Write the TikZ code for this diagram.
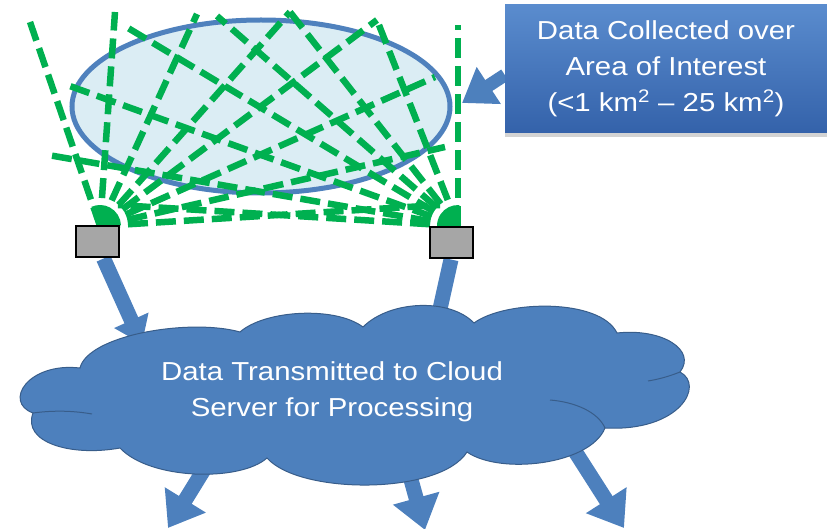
\documentclass[tikz,border=0pt]{standalone}
\usepackage{fontspec}
\newfontfamily\widesans[FakeStretch=1.13]{Liberation Sans}
\usepackage{tikz}
\usetikzlibrary{arrows.meta,shapes.geometric,backgrounds,shadows,positioning}

\definecolor{areafill}{RGB}{219,237,244}
\definecolor{areablue}{RGB}{79,129,189}
\definecolor{beamgreen}{RGB}{0,176,80}
\definecolor{sensorgray}{RGB}{166,166,166}
\definecolor{cloudblue}{RGB}{77,128,189}
\definecolor{cloudedge}{RGB}{56,93,138}
\definecolor{boxtop}{RGB}{90,140,206}
\definecolor{boxbottom}{RGB}{52,98,170}

\begin{document}
\begin{tikzpicture}[x=1pt, y=-1pt,
    beam/.style={beamgreen, line width=6.5pt, dash pattern=on 20pt off 8pt},
    sensor/.style={draw=black, fill=sensorgray, line width=2pt, minimum width=43pt, minimum height=31pt, inner sep=0pt},
    bigarrow/.style={cloudblue, line width=15pt, -{Triangle[length=33pt, width=46pt]}},
    whitetext/.style={text=white, align=center, font=\widesans\fontsize{26}{36}\selectfont}]
    \useasboundingbox (0,0) rectangle (827,529);

    \node[ellipse, draw=areablue, fill=areafill, line width=5pt, minimum width=378pt, minimum height=173pt] (area) at (261,106.5) {};

    \coordinate (L) at (100,226);
    \coordinate (R) at (458,226);
    \coordinate (la1) at (30,22);
    \coordinate (la2) at (115,12);
    \coordinate (la3) at (197,14);
    \coordinate (la4) at (290,12);
    \coordinate (la5) at (377,20);
    \coordinate (la6) at (435,77);
    \coordinate (la7) at (445,147);
    \coordinate (la8) at (440,205);
    \coordinate (ra1) at (458,25);
    \coordinate (ra2) at (377,20);
    \coordinate (ra3) at (290,12);
    \coordinate (ra4) at (217,16);
    \coordinate (ra5) at (128,28);
    \coordinate (ra6) at (67,85);
    \coordinate (ra7) at (48,155);
    \coordinate (ra8) at (118,205);

    \draw[beam] (L) -- (la1);
    \draw[beam] (L) -- (la2);
    \draw[beam] (L) -- (la3);
    \draw[beam] (L) -- (la4);
    \draw[beam] (L) -- (la5);
    \draw[beam] (L) -- (la6);
    \draw[beam] (L) -- (la7);
    \draw[beam] (L) -- (la8);
    \draw[beam] (R) -- (ra1);
    \draw[beam] (R) -- (ra2);
    \draw[beam] (R) -- (ra3);
    \draw[beam] (R) -- (ra4);
    \draw[beam] (R) -- (ra5);
    \draw[beam] (R) -- (ra6);
    \draw[beam] (R) -- (ra7);
    \draw[beam] (R) -- (ra8);
    \fill[beamgreen] (L) -- ++(-2:21) arc[start angle=-2, end angle=-114, radius=21] -- cycle;
    \fill[beamgreen] (R) -- ++(-86:21) arc[start angle=-86, end angle=-180, radius=21] -- cycle;

    \node[sensor] (lsens) at (97.5,242) {};
    \node[sensor] (rsens) at (451,243) {};

    % cloud
    \draw[fill=cloudblue, draw=cloudedge, line width=1pt]
        (80,368) .. controls (88,335) and (190,318) .. (240,332)
        .. controls (265,310) and (335,306) .. (363,327)
        .. controls (390,300) and (450,298) .. (474,323)
        .. controls (505,300) and (600,298) .. (617,333)
        .. controls (662,328) and (697,350) .. (680,372)
        .. controls (705,385) and (680,432) .. (605,428)
        .. controls (590,465) and (500,475) .. (467,452)
        .. controls (440,495) and (300,495) .. (267,458)
        .. controls (240,482) and (150,480) .. (120,448)
        .. controls (70,457) and (22,442) .. (33,413)
        .. controls (3,402) and (28,362) .. (80,368) -- cycle;
    \draw[cloudedge, line width=1pt] (33,413) .. controls (55,410) and (75,411) .. (92,414);
    \draw[cloudedge, line width=1pt] (680,372) .. controls (670,376) and (660,379) .. (648,381);
    \draw[cloudedge, line width=1pt] (605,428) .. controls (598,412) and (575,402) .. (550,400);
    \node[whitetext] (cloudtext) at (332,392) {Data Transmitted to Cloud\\Server for Processing};

    \node[whitetext, top color=boxtop, bottom color=boxbottom, minimum width=322pt, minimum height=128pt, drop shadow={shadow xshift=0pt, shadow yshift=-4pt, opacity=0.35}] (callout) at (666,69) {Data Collected over\\Area of Interest\\(<1 km\textsuperscript{2} – 25 km\textsuperscript{2})};

    \coordinate (areatip) at (462,103);
    \coordinate (lhit) at (142,344);
    \coordinate (rhit) at (432,345);
    \coordinate (src1) at (213,455);
    \coordinate (src2) at (400,440);
    \coordinate (src3) at (555,420);
    \coordinate (feed1) at (168,528);
    \coordinate (feed2) at (425,530);
    \coordinate (feed3) at (624,528);

    \begin{scope}[on background layer]
        \draw[bigarrow, -{Triangle[length=26pt, width=36pt]}] ([xshift=6pt]lsens.south) -- (lhit);
        \draw[bigarrow, -{Triangle[length=26pt, width=36pt]}] (rsens.south) -- (rhit);
        \draw[bigarrow] (src1) -- (feed1);
        \draw[bigarrow] (src2) -- (feed2);
        \draw[bigarrow] (src3) -- (feed3);
        \draw[bigarrow, line width=13pt, -{Triangle[length=32pt, width=42pt]}] ([yshift=-6pt]callout.west) -- (areatip);
    \end{scope}
\end{tikzpicture}
\end{document}
